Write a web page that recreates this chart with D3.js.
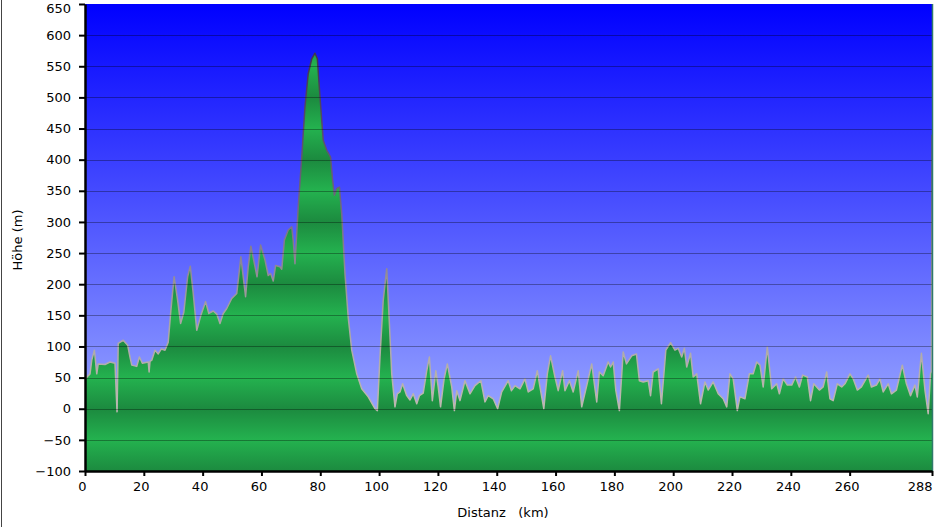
<!DOCTYPE html>
<html>
<head>
<meta charset="utf-8">
<script src="https://cdn.jsdelivr.net/npm/d3@7"></script>
<style>
    html, body { margin: 0; padding: 0; background: #ffffff; }
    svg { display: block; }
    text { font-family: "DejaVu Sans", Verdana, sans-serif; }
</style>
</head>
<body>
<svg id="chart"></svg>
<script>
// distance along the route (km) and elevation (m)
const distanceKm = [
    0, 1.7, 2.3, 3.2, 4.0, 4.5, 6.8, 8.5, 10.2, 10.9, 11.3, 13.0, 14.5, 15.3, 15.9, 17.6, 18.5, 19.5,
    21.5, 21.8, 22.1, 22.7, 23.8, 24.9, 26.0, 27.2, 28.3, 29.2, 30.3, 31.5, 32.5, 33.6, 34.9, 35.8,
    36.8, 38.0, 39.4, 41.0, 42.1, 43.6, 44.8, 45.9, 47.0, 48.2, 49.9, 51.6, 53.0, 54.6, 55.5, 56.4,
    57.6, 58.5, 59.7, 61.2, 62.3, 63.1, 64.0, 64.8, 66.3, 66.9, 67.8, 69.1,
    70.3, 70.8, 71.4, 72.5, 73.7, 74.8, 75.9, 77.1, 78.2, 79.0, 79.9, 81.0, 82.2, 83.5, 84.2, 84.8,
    85.6, 86.5, 87.3, 88.4, 89.5, 90.7, 92.4, 94.1, 96.3, 98.0, 98.6, 99.4, 100.3, 101.4, 102.6,
    103.5, 104.3, 105.4, 106.2,
    107.1, 108.0, 109.4, 110.5, 111.6, 112.8, 113.7, 115.0, 116.2, 117.1, 118.1, 119.3, 120.1, 120.9,
    122.1, 123.2, 124.7, 125.6, 126.4, 127.5, 129.2, 130.9, 132.6, 134.6, 136.0, 137.1, 138.8, 140.3,
    141.7, 143.9, 145.0, 146.2, 147.9, 149.6, 150.7, 152.4, 153.8, 154.7, 156.0, 157.2, 158.3, 159.8,
    160.9, 162.4, 163.2, 164.7, 166.0, 167.7, 168.9, 170.5, 172.3, 174.0, 174.9, 176.2, 177.9, 178.7,
    179.6, 180.5, 181.7, 183.0, 184.1, 185.9, 187.5, 188.5, 189.8, 191.5, 192.3, 193.2, 194.9, 196.0,
    197.5, 199.1, 200.6, 201.7, 202.9, 203.8, 204.6, 205.9, 206.8, 208.0, 209.3, 210.8, 211.9, 213.6,
    215.3, 217.0, 218.2, 219.3, 220.4, 221.8, 222.7, 224.4, 225.9, 227.2, 228.4, 229.5, 230.6, 232.0,
    233.5, 235.2, 236.1, 237.4, 238.8, 240.3, 241.6, 242.9, 244.0, 245.6, 246.7, 247.8, 249.7, 251.0,
    252.2, 253.3, 254.4, 255.8, 257.3, 258.4, 260.1, 261.2, 262.6, 264.0, 266.3, 267.4, 269.1, 270.3,
    271.4, 273.1, 274.2, 275.9, 277.9, 279.3, 280.7, 282.2, 283.0, 284.4, 285.6, 286.7, 287.5, 287.8, 288
];
const elevationM = [
    48, 56, 78, 94, 56, 72, 71, 75, 73, -5, 105, 110, 102, 83, 70, 68, 83, 73,
    75, 59, 76, 78, 94, 88, 96, 94, 107, 158, 212, 174, 137, 155, 212, 229,
    185, 126, 150, 172, 153, 157, 152, 137, 153, 161, 177, 185, 244, 180, 228, 261,
    233, 212, 263, 239, 214, 217, 205, 230, 228, 224, 271, 287,
    292, 270, 233, 324, 404, 485, 538, 562, 571, 562, 501, 431, 415, 404, 367, 343,
    354, 356, 313, 217, 147, 94, 56, 32, 19, 5, 0, -3, 83, 174, 225,
    137, 56, 3, 24,
    27, 40, 21, 14, 24, 8, 21, 25, 61, 83, 13, 61, 35, 3,
    48, 72, 35, -3, 29, 13, 45, 24, 37, 45, 11, 21, 16, 0,
    27, 45, 29, 37, 32, 48, 27, 32, 61, 35, 0, 56, 85, 51,
    29, 61, 29, 45, 27, 61, 3, 35, 72, 11, 59, 53, 75, 67,
    75, 29, -3, 91, 72, 85, 88, 45, 43, 45, 21, 59, 64, 8,
    94, 106, 94, 97, 83, 97, 67, 89, 51, 56, 8, 43, 30, 43,
    24, 16, 3, 56, 48, -3, 19, 16, 56, 56, 75, 70, 35, 99,
    32, 40, 24, 48, 38, 38, 51, 35, 54, 51, 13, 40, 30, 35,
    59, 16, 13, 40, 35, 40, 56, 48, 30, 35, 54, 35, 38, 48,
    27, 40, 24, 30, 70, 40, 21, 38, 19, 89, 30, -8, 56, 60, 440
];

const xTickValues = [0, 20, 40, 60, 80, 100, 120, 140, 160, 180, 200, 220, 240, 260, 288];
const yTickValues = [-100, -50, 0, 50, 100, 150, 200, 250, 300, 350, 400, 450, 500, 550, 600, 650];

const width = 939;
const height = 527;
const plotLeft = 85;
const plotRight = 932;
const plotTop = 4;
const plotBottom = 471;

const data = distanceKm.map((d, i) => [d, elevationM[i]]);

const x = d3.scaleLinear()
    .domain([0, 288])
    .range([plotLeft, plotRight]);

const y = d3.scaleLinear()
    .domain([-100, 650])
    .range([plotBottom, plotTop]);

const svg = d3.select(`#chart`)
    .attr(`width`, width)
    .attr(`height`, height);

const defs = svg.append(`defs`);

const sky = defs.append(`linearGradient`)
    .attr(`id`, `sky`)
    .attr(`x1`, 0).attr(`y1`, 0).attr(`x2`, 0).attr(`y2`, 1);
sky.append(`stop`).attr(`offset`, `0%`).attr(`stop-color`, `#0000ff`);
sky.append(`stop`).attr(`offset`, `100%`).attr(`stop-color`, `#abbaff`);

// green fill is banded: dark on each 100 m line, light between
const ground = defs.append(`linearGradient`)
    .attr(`id`, `ground`)
    .attr(`gradientUnits`, `userSpaceOnUse`)
    .attr(`spreadMethod`, `repeat`)
    .attr(`x1`, 0).attr(`y1`, y(0))
    .attr(`x2`, 0).attr(`y2`, y(100));
ground.append(`stop`).attr(`offset`, `0%`).attr(`stop-color`, `#1c8a3f`);
ground.append(`stop`).attr(`offset`, `50%`).attr(`stop-color`, `#24b24f`);
ground.append(`stop`).attr(`offset`, `100%`).attr(`stop-color`, `#1c8a3f`);

// outline goes from dark near the summit to light grey near the valley
const outline = defs.append(`linearGradient`)
    .attr(`id`, `outline`)
    .attr(`gradientUnits`, `userSpaceOnUse`)
    .attr(`x1`, 0).attr(`y1`, y(600))
    .attr(`x2`, 0).attr(`y2`, y(0));
outline.append(`stop`).attr(`offset`, `0%`).attr(`stop-color`, `#3a2f48`);
outline.append(`stop`).attr(`offset`, `45%`).attr(`stop-color`, `#6f6680`);
outline.append(`stop`).attr(`offset`, `75%`).attr(`stop-color`, `#a8a3a4`);
outline.append(`stop`).attr(`offset`, `100%`).attr(`stop-color`, `#bdb8b0`);

defs.append(`clipPath`)
    .attr(`id`, `plotClip`)
    .append(`rect`)
    .attr(`x`, plotLeft).attr(`y`, plotTop)
    .attr(`width`, plotRight - plotLeft).attr(`height`, plotBottom - plotTop);

// window border on the left
svg.append(`line`)
    .attr(`x1`, 1.5).attr(`x2`, 1.5)
    .attr(`y1`, 0).attr(`y2`, height)
    .attr(`stroke`, `#444`)
    .attr(`stroke-width`, 1);

svg.append(`rect`)
    .attr(`x`, plotLeft).attr(`y`, plotTop)
    .attr(`width`, plotRight - plotLeft).attr(`height`, plotBottom - plotTop)
    .attr(`fill`, `url(#sky)`);

const plot = svg.append(`g`)
    .attr(`clip-path`, `url(#plotClip)`);

const area = d3.area()
    .x(d => x(d[0]))
    .y0(y(-100))
    .y1(d => y(d[1]));

const line = d3.line()
    .x(d => x(d[0]))
    .y(d => y(d[1]));

plot.append(`path`)
    .datum(data)
    .attr(`d`, area)
    .attr(`fill`, `url(#ground)`);

plot.append(`path`)
    .datum(data)
    .attr(`d`, line)
    .attr(`fill`, `none`)
    .attr(`stroke`, `url(#outline)`)
    .attr(`stroke-width`, 1.5)
    .attr(`stroke-linejoin`, `round`);

// grid lines on top of everything
plot.selectAll(`.grid`)
    .data(yTickValues.filter(v => v > -100 && v < 650))
    .enter().append(`line`)
    .attr(`class`, `grid`)
    .attr(`x1`, plotLeft).attr(`x2`, plotRight)
    .attr(`y1`, d => Math.round(y(d)) + 0.5)
    .attr(`y2`, d => Math.round(y(d)) + 0.5)
    .attr(`stroke`, `#000`)
    .attr(`stroke-opacity`, 0.33)
    .attr(`stroke-width`, 1);

// right edge of the plot
svg.append(`line`)
    .attr(`x1`, plotRight + 0.5).attr(`x2`, plotRight + 0.5)
    .attr(`y1`, plotTop).attr(`y2`, plotBottom)
    .attr(`stroke`, `#2f7a6a`)
    .attr(`stroke-width`, 1.5);

const xAxis = d3.axisBottom(x)
    .tickValues(xTickValues)
    .tickSize(5)
    .tickSizeOuter(0)
    .tickPadding(6);

const yAxis = d3.axisLeft(y)
    .tickValues(yTickValues)
    .tickSize(6)
    .tickSizeOuter(0)
    .tickPadding(8);

const xTicks = svg.append(`g`)
    .attr(`transform`, `translate(0, ${plotBottom})`)
    .call(xAxis);

const yTicks = svg.append(`g`)
    .attr(`transform`, `translate(${plotLeft}, 0)`)
    .call(yAxis);

[xTicks, yTicks].forEach(g => {
    g.select(`.domain`).attr(`stroke`, `#000`).attr(`stroke-width`, 2.5);
    g.selectAll(`.tick line`).attr(`stroke`, `#000`).attr(`stroke-width`, 2);
    g.selectAll(`.tick text`)
        .attr(`fill`, `#000`)
        .style(`font-family`, `"DejaVu Sans", Verdana, sans-serif`)
        .style(`font-size`, `13px`);
});

// x labels sit a little left of their ticks, the last one ends at the tick
xTicks.selectAll(`.tick text`)
    .attr(`dx`, -3)
    .filter(d => d === 288)
    .attr(`text-anchor`, `end`)
    .attr(`dx`, 0);

// top y label is pushed down inside the picture
yTicks.selectAll(`.tick text`)
    .filter(d => d === 650)
    .attr(`dy`, `0.32em`)
    .attr(`y`, 4.5);

svg.append(`text`)
    .attr(`transform`, `translate(22, 240) rotate(-90)`)
    .attr(`text-anchor`, `middle`)
    .attr(`font-size`, `13px`)
    .attr(`fill`, `#000`)
    .text(`Höhe (m)`);

svg.append(`text`)
    .attr(`x`, 503)
    .attr(`y`, 517)
    .attr(`text-anchor`, `middle`)
    .attr(`font-size`, `13px`)
    .attr(`fill`, `#000`)
    .style(`white-space`, `pre`)
    .text(`Distanz   (km)`);
</script>
</body>
</html>
